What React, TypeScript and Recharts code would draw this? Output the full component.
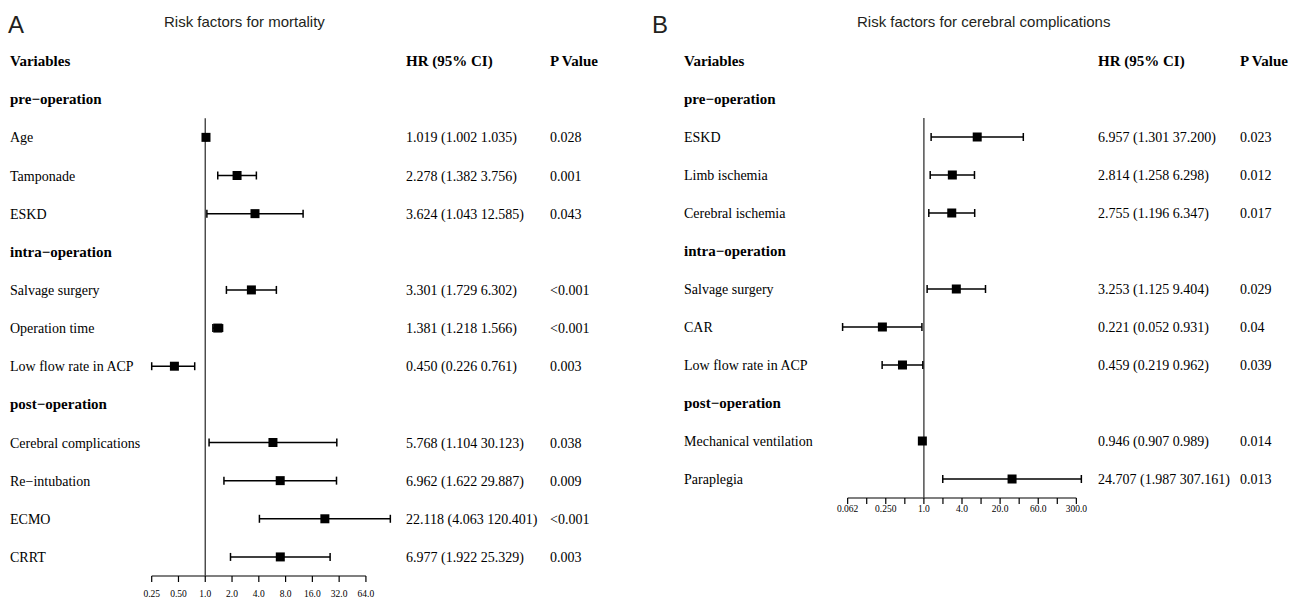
import React from "react";
import { ScatterChart, Scatter, XAxis, YAxis, ErrorBar, ReferenceLine } from "recharts";

// ---- Panel A: mortality ----
const rowsA = [
  "pre−operation", "Age", "Tamponade", "ESKD",
  "intra−operation", "Salvage surgery", "Operation time", "Low flow rate in ACP",
  "post−operation", "Cerebral complications", "Re−intubation", "ECMO", "CRRT",
];
const hrA = [null, 1.019, 2.278, 3.624, null, 3.301, 1.381, 0.45, null, 5.768, 6.962, 22.118, 6.977];
const lowA = [null, 1.002, 1.382, 1.043, null, 1.729, 1.218, 0.226, null, 1.104, 1.622, 4.063, 1.922];
const highA = [null, 1.035, 3.756, 12.585, null, 6.302, 1.566, 0.761, null, 30.123, 29.887, 120.401, 25.329];
const pA = ["", "0.028", "0.001", "0.043", "", "<0.001", "<0.001", "0.003", "", "0.038", "0.009", "<0.001", "0.003"];
const ticksA = [0.25, 0.5, 1, 2, 4, 8, 16, 32, 64];
const tickLabelsA = ["0.25", "0.50", "1.0", "2.0", "4.0", "8.0", "16.0", "32.0", "64.0"];

// ---- Panel B: cerebral complications ----
const rowsB = [
  "pre−operation", "ESKD", "Limb ischemia", "Cerebral ischemia",
  "intra−operation", "Salvage surgery", "CAR", "Low flow rate in ACP",
  "post−operation", "Mechanical ventilation", "Paraplegia",
];
const hrB = [null, 6.957, 2.814, 2.755, null, 3.253, 0.221, 0.459, null, 0.946, 24.707];
const lowB = [null, 1.301, 1.258, 1.196, null, 1.125, 0.052, 0.219, null, 0.907, 1.987];
const highB = [null, 37.2, 6.298, 6.347, null, 9.404, 0.931, 0.962, null, 0.989, 307.161];
const pB = ["", "0.023", "0.012", "0.017", "", "0.029", "0.04", "0.039", "", "0.014", "0.013"];
const ticksB = [0.0625, 0.125, 0.25, 0.5, 1, 2, 4, 8, 16, 32, 64, 128, 256];
const tickLabelsB = ["0.062", "", "0.250", "", "1.0", "", "4.0", "", "20.0", "", "60.0", "", "300.0"];

const SERIF = "'Liberation Serif', 'Times New Roman', serif";
const SANS = "'Liberation Sans', Arial, sans-serif";

const fmt = (v: number) => v.toFixed(3);

// CI lines are clipped at the left end of the x range, as in the source figure
function buildData(rows: string[], hr: (number | null)[], lo: (number | null)[], hi: (number | null)[], minX: number) {
  return rows
    .map((label, i) => ({ i, label, hr: hr[i], lo: lo[i], hi: hi[i] }))
    .filter((d) => d.hr != null)
    .map((d) => {
      const h = d.hr as number;
      const l = Math.max(d.lo as number, minX);
      return { row: d.i + 1, hr: h, err: [h - l, (d.hi as number) - h] };
    });
}

interface PanelProps {
  width: number;
  rows: string[];
  hr: (number | null)[];
  lo: (number | null)[];
  hi: (number | null)[];
  p: string[];
  ticks: number[];
  tickLabels: string[];
  domain: [number, number];
  axisEnd: number;
  yAxisWidth: number;
  marginRight: number;
  marginBottom: number;
  tickMargin: number;
  cols: [number, number, number];
  textSize: number;
  boldSize: number;
}

function Panel(props: PanelProps) {
  const { rows, hr, lo, hi, p, cols, textSize, boldSize } = props;
  const data = buildData(rows, hr, lo, hi, props.domain[0]);
  const n = rows.length;
  const rowTicks = Array.from({ length: n + 1 }, (_, k) => k);

  const RowTick = (tp: any) => {
    const y = tp.y;
    const r = tp.payload.value as number;
    if (r === 0) {
      return (
        <g fontFamily={SERIF} fontWeight="bold" fontSize={boldSize} fill="#000">
          <text x={cols[0]} y={y + 5}>Variables</text>
          <text x={cols[1]} y={y + 5}>HR (95% CI)</text>
          <text x={cols[2]} y={y + 5}>P Value</text>
        </g>
      );
    }
    const i = r - 1;
    if (hr[i] == null) {
      return (
        <text x={cols[0]} y={y + 5} fontFamily={SERIF} fontWeight="bold" fontSize={boldSize} fill="#000">
          {rows[i]}
        </text>
      );
    }
    return (
      <g fontFamily={SERIF} fontSize={textSize} fill="#000">
        <text x={cols[0]} y={y + 5}>{rows[i]}</text>
        <text x={cols[1]} y={y + 5}>{`${fmt(hr[i] as number)} (${fmt(lo[i] as number)} ${fmt(hi[i] as number)})`}</text>
        <text x={cols[2]} y={y + 5}>{p[i]}</text>
      </g>
    );
  };

  return (
    <ScatterChart
      width={props.width}
      height={604}
      margin={{ top: 42, right: props.marginRight, bottom: props.marginBottom, left: 0 }}
    >
      <XAxis
        type="number"
        dataKey="hr"
        scale="log"
        domain={props.domain}
        allowDataOverflow
        ticks={props.ticks}
        interval={0}
        axisLine={false}
        tickLine={{ stroke: "#000", strokeWidth: 1.2 }}
        tickSize={6}
        tickMargin={props.tickMargin}
        height={24}
        tick={{ fontSize: 9.5, fill: "#000", fontFamily: SERIF }}
        tickFormatter={(v: number) => props.tickLabels[props.ticks.indexOf(v)] ?? ""}
      />
      <YAxis
        type="number"
        dataKey="row"
        domain={[-0.5, n + 0.5]}
        reversed
        ticks={rowTicks}
        interval={0}
        axisLine={false}
        tickLine={false}
        width={props.yAxisWidth}
        tick={RowTick}
      />
      <ReferenceLine
        segment={[{ x: props.ticks[0], y: n + 0.5 }, { x: props.axisEnd, y: n + 0.5 }]}
        stroke="#000"
        strokeWidth={1.2}
      />
      <ReferenceLine
        segment={[{ x: 1, y: 1.5 }, { x: 1, y: n + 0.5 }]}
        stroke="#444"
        strokeWidth={1.4}
      />
      <Scatter
        data={data}
        isAnimationActive={false}
        shape={(s: any) => <rect x={s.cx - 4.5} y={s.cy - 4.5} width={9} height={9} fill="#000" />}
      >
        <ErrorBar dataKey="err" direction="x" width={4} stroke="#000" strokeWidth={1.5} />
      </Scatter>
    </ScatterChart>
  );
}

export default function App() {
  return (
    <div style={{ position: "absolute", left: 0, top: 0, width: 1301, height: 604, background: "#fff" }}>
      <div style={{ position: "absolute", left: 0, top: 0 }}>
        <Panel
          width={650}
          rows={rowsA}
          hr={hrA}
          lo={lowA}
          hi={highA}
          p={pA}
          ticks={ticksA}
          tickLabels={tickLabelsA}
          domain={[0.25, 128]}
          axisEnd={64}
          yAxisWidth={151.7}
          marginRight={257.3}
          marginBottom={4}
          tickMargin={8}
          cols={[10, 406, 550]}
          textSize={14}
          boldSize={15}
        />
      </div>
      <div style={{ position: "absolute", left: 650, top: 0 }}>
        <Panel
          width={651}
          rows={rowsB}
          hr={hrB}
          lo={lowB}
          hi={highB}
          p={pB}
          ticks={ticksB}
          tickLabels={tickLabelsB}
          domain={[0.03125, 512]}
          axisEnd={256}
          yAxisWidth={178.6}
          marginRight={205.6}
          marginBottom={82}
          tickMargin={1}
          cols={[34, 448, 590]}
          textSize={14}
          boldSize={15}
        />
      </div>
      <svg width={1301} height={60} style={{ position: "absolute", left: 0, top: 0, pointerEvents: "none" }}>
        <g fill="#231f20" fontFamily={SANS}>
          <text x={8} y={33} fontSize={24}>A</text>
          <text x={164} y={27} fontSize={15}>Risk factors for mortality</text>
          <text x={652} y={33} fontSize={24}>B</text>
          <text x={857} y={27} fontSize={15}>Risk factors for cerebral complications</text>
        </g>
      </svg>
    </div>
  );
}
